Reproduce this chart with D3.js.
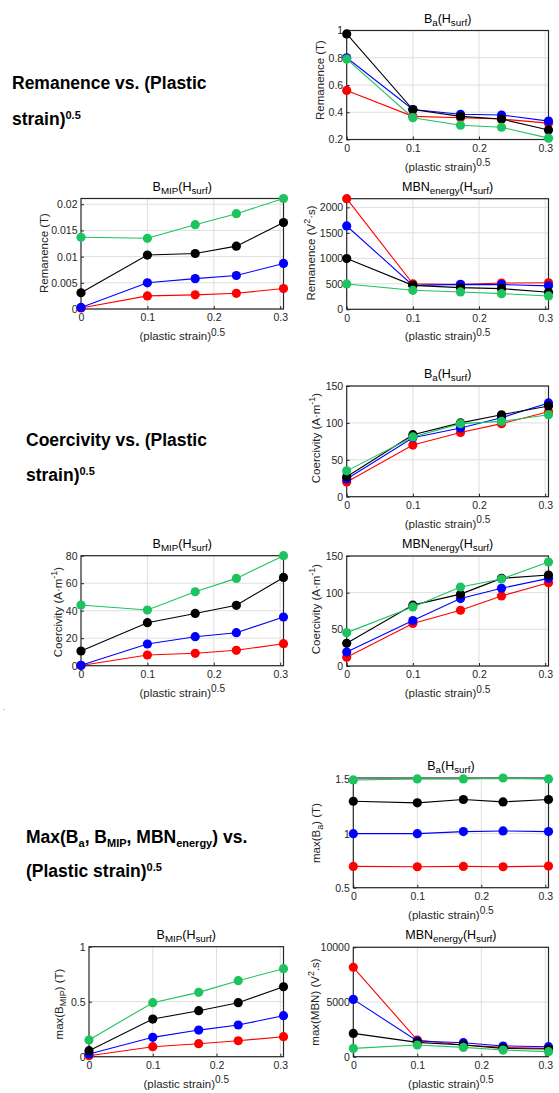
<!DOCTYPE html>
<html><head><meta charset="utf-8">
<script src="https://cdn.jsdelivr.net/npm/d3@7"></script>
<style>body{margin:0;background:#fff} svg{display:block}</style>
</head><body>
<script>
// ---------- data ----------
const strain = [0, 0.1, 0.172, 0.234, 0.305];
const xTicks = [0, 0.1, 0.2, 0.3];
const xTickLabels = ["0", "0.1", "0.2", "0.3"];
const seriesOrder = ["red", "blue", "black", "green"];

// Remanence – B_a
const remBaRed   = [0.56, 0.37, 0.36, 0.35, 0.32];
const remBaBlue  = [0.80, 0.42, 0.385, 0.38, 0.335];
const remBaBlack = [0.975, 0.42, 0.37, 0.35, 0.27];
const remBaGreen = [0.79, 0.36, 0.305, 0.29, 0.21];
const remBaTicks = [0.2, 0.4, 0.6, 0.8, 1];
const remBaTickLabels = ["0.2", "0.4", "0.6", "0.8", "1"];

// Remanence – B_MIP
const remMipRed   = [0.0002, 0.0025, 0.0027, 0.0030, 0.0039];
const remMipBlue  = [0.0003, 0.0050, 0.0058, 0.0064, 0.0087];
const remMipBlack = [0.0031, 0.0103, 0.0106, 0.0120, 0.0165];
const remMipGreen = [0.0137, 0.0135, 0.0161, 0.0182, 0.0211];
const remMipTicks = [0, 0.005, 0.01, 0.015, 0.02];
const remMipTickLabels = ["0", "0.005", "0.01", "0.015", "0.02"];

// Remanence – MBN energy
const remMbnRed   = [2170, 500, 485, 515, 520];
const remMbnBlue  = [1635, 470, 490, 485, 460];
const remMbnBlack = [995, 470, 425, 405, 335];
const remMbnGreen = [497, 373, 340, 307, 262];
const remMbnTicks = [0, 500, 1000, 1500, 2000];
const remMbnTickLabels = ["0", "500", "1000", "1500", "2000"];

// Coercivity – B_a
const coBaRed   = [20, 70, 87, 99, 115];
const coBaBlue  = [24, 80, 93, 107, 127];
const coBaBlack = [27, 84, 100, 111, 123];
const coBaGreen = [35, 81, 99, 102, 111];
const coBaTicks = [0, 50, 100, 150];
const coBaTickLabels = ["0", "50", "100", "150"];

// Coercivity – B_MIP
const coMipRed   = [0.2, 7.8, 9, 11.2, 16];
const coMipBlue  = [0.3, 15.8, 21.1, 24, 35.4];
const coMipBlack = [10.7, 31.3, 38, 43.9, 64.2];
const coMipGreen = [44.1, 40.5, 53.8, 63.5, 80];
const coMipTicks = [0, 20, 40, 60, 80];
const coMipTickLabels = ["0", "20", "40", "60", "80"];

// Coercivity – MBN energy
const coMbnRed   = [12, 58, 76, 95.5, 113.6];
const coMbnBlue  = [19, 62, 92, 106, 119.5];
const coMbnBlack = [31, 83, 98, 119.5, 124];
const coMbnGreen = [45.5, 80.5, 107.7, 118.6, 141.8];
const coMbnTicks = [0, 50, 100, 150];
const coMbnTickLabels = ["0", "50", "100", "150"];

// Max – B_a
const maxBaRed   = [0.697, 0.694, 0.697, 0.694, 0.70];
const maxBaBlue  = [1.0, 1.0, 1.019, 1.025, 1.019];
const maxBaBlack = [1.30, 1.285, 1.316, 1.294, 1.316];
const maxBaGreen = [1.497, 1.506, 1.506, 1.515, 1.506];
const maxBaTicks = [0.5, 1, 1.5];
const maxBaTickLabels = ["0.5", "1", "1.5"];

// Max – B_MIP
const maxMipRed   = [0.009, 0.091, 0.118, 0.145, 0.182];
const maxMipBlue  = [0.024, 0.176, 0.242, 0.288, 0.373];
const maxMipBlack = [0.055, 0.342, 0.418, 0.491, 0.636];
const maxMipGreen = [0.152, 0.491, 0.585, 0.691, 0.80];
const maxMipTicks = [0, 0.5, 1];
const maxMipTickLabels = ["0", "0.5", "1"];

// Max – MBN energy
const maxMbnRed   = [8170, 1520, 1070, 850, 760];
const maxMbnBlue  = [5240, 1430, 1280, 980, 915];
const maxMbnBlack = [2130, 1310, 1070, 760, 700];
const maxMbnGreen = [760, 1070, 850, 610, 460];
const maxMbnTicks = [0, 5000, 10000];
const maxMbnTickLabels = ["0", "5000", "10000"];

// ---------- style ----------
const colors = { red: "#ff0000", blue: "#0000ff", black: "#000000", green: "#1dc35e" };
const axisColor = "#262626";
const gridColor = "#dedede";
const FONT = "'Liberation Sans', Arial, sans-serif";
const TICK_FS = 10.5, LABEL_FS = 11.5, TITLE_FS = 12.5;

const W = 559, H = 1093;
const svg = d3.select("body").append("svg").attr("width", W).attr("height", H)
  .style("font-family", FONT);

// rich text helper: parts = [[text, kind]] kind: n (normal), sub, sup
function rich(sel, parts, fs, supScale) {
  let shift = 0;
  parts.forEach(([t, k]) => {
    const target = k === "sub" ? 3 : k === "sup" ? -4.5 : 0;
    sel.append("tspan").text(t)
      .attr("dy", target - shift)
      .attr("font-size", k === "n" ? fs : fs * (supScale || 0.78));
    shift = target;
  });
  return sel;
}

function panel(cfg) {
  const x = d3.scaleLinear().domain([0, strain[strain.length - 1]]).range([cfg.x0, cfg.x1]);
  const y = d3.scaleLinear().domain(cfg.yDomain).range([cfg.y1, cfg.y0]);
  const g = svg.append("g");

  // grid
  g.append("g").selectAll("line").data(xTicks.filter(v => v > 0)).join("line")
    .attr("x1", d => x(d)).attr("x2", d => x(d)).attr("y1", cfg.y0).attr("y2", cfg.y1)
    .attr("stroke", gridColor).attr("stroke-width", 1);
  g.append("g").selectAll("line").data(cfg.yTicks).join("line")
    .attr("x1", cfg.x0).attr("x2", cfg.x1).attr("y1", d => y(d)).attr("y2", d => y(d))
    .attr("stroke", gridColor).attr("stroke-width", 1);

  // axes
  const ax = d3.axisBottom(x).tickValues(xTicks)
    .tickFormat((d, i) => xTickLabels[i]).tickSizeInner(-3).tickSizeOuter(0).tickPadding(5);
  const axG = g.append("g").attr("transform", `translate(0,${cfg.y1})`).call(ax);
  const ay = d3.axisLeft(y).tickValues(cfg.yTicks)
    .tickFormat((d, i) => cfg.yTickLabels[i]).tickSizeInner(-3).tickSizeOuter(0).tickPadding(3.5);
  const ayG = g.append("g").attr("transform", `translate(${cfg.x0},0)`).call(ay);
  [axG, ayG].forEach(a => {
    a.select(".domain").remove();
    a.selectAll("line").attr("stroke", axisColor);
    a.selectAll("text").attr("fill", axisColor).attr("font-size", TICK_FS).attr("font-family", FONT);
  });

  // box
  g.append("rect").attr("x", cfg.x0).attr("y", cfg.y0)
    .attr("width", cfg.x1 - cfg.x0).attr("height", cfg.y1 - cfg.y0)
    .attr("fill", "none").attr("stroke", axisColor).attr("stroke-width", 1.2);

  // series
  const line = d3.line().x((d, i) => x(strain[i])).y(d => y(d));
  seriesOrder.forEach(name => {
    const vals = cfg.series[name];
    const sg = g.append("g");
    sg.append("path").attr("d", line(vals)).attr("fill", "none")
      .attr("stroke", colors[name]).attr("stroke-width", 1.1);
    sg.selectAll("circle").data(vals).join("circle")
      .attr("cx", (d, i) => x(strain[i])).attr("cy", d => y(d)).attr("r", 4.6)
      .attr("fill", colors[name]);
  });

  // title
  const cx = (cfg.x0 + cfg.x1) / 2;
  rich(svg.append("text").attr("x", cx).attr("y", cfg.y0 - 8)
    .attr("text-anchor", "middle").attr("fill", "#000"), cfg.title, TITLE_FS);

  // x label
  rich(svg.append("text").attr("x", cx).attr("y", cfg.y1 + 31)
    .attr("text-anchor", "middle").attr("fill", axisColor),
    [["(plastic strain)", "n"], ["0.5", "sup"]], LABEL_FS, 0.88);

  // y label (baseline placed so glyphs are centred on ylx)
  rich(svg.append("text")
    .attr("transform", `translate(${cfg.ylx + 4.2},${cfg.yly}) rotate(-90)`)
    .attr("text-anchor", "middle").attr("fill", axisColor),
    cfg.ylabel, LABEL_FS);
}

const tBa = [["B", "n"], ["a", "sub"], ["(H", "n"], ["surf", "sub"], [")", "n"]];
const tMip = [["B", "n"], ["MIP", "sub"], ["(H", "n"], ["surf", "sub"], [")", "n"]];
const tMbn = [["MBN", "n"], ["energy", "sub"], ["(H", "n"], ["surf", "sub"], [")", "n"]];
const lRemT = [["Remanence (T)", "n"]];
const lRemV = [["Remanence (V", "n"], ["2", "sup"], ["·s)", "n"]];
const lCo = [["Coercivity (A·m", "n"], ["-1", "sup"], [")", "n"]];

const R = { x0: 346.7, x1: 548.5 };
const L = { x0: 81, x1: 283.5 };

panel({ ...R, y0: 30.5, y1: 139.5, yDomain: [0.2, 1], yTicks: remBaTicks, yTickLabels: remBaTickLabels,
  series: { red: remBaRed, blue: remBaBlue, black: remBaBlack, green: remBaGreen },
  title: tBa, ylabel: lRemT, ylx: 320, yly: 80 });
panel({ ...L, y0: 198.5, y1: 309, yDomain: [0, 0.0211], yTicks: remMipTicks, yTickLabels: remMipTickLabels,
  series: { red: remMipRed, blue: remMipBlue, black: remMipBlack, green: remMipGreen },
  title: tMip, ylabel: lRemT, ylx: 44, yly: 253 });
panel({ ...R, y0: 198.7, y1: 309.3, yDomain: [0, 2170], yTicks: remMbnTicks, yTickLabels: remMbnTickLabels,
  series: { red: remMbnRed, blue: remMbnBlue, black: remMbnBlack, green: remMbnGreen },
  title: tMbn, ylabel: lRemV, ylx: 310.5, yly: 253 });
panel({ ...R, y0: 386, y1: 496.7, yDomain: [0, 150], yTicks: coBaTicks, yTickLabels: coBaTickLabels,
  series: { red: coBaRed, blue: coBaBlue, black: coBaBlack, green: coBaGreen },
  title: tBa, ylabel: lCo, ylx: 315.5, yly: 438 });
panel({ ...L, y0: 555.7, y1: 665.7, yDomain: [0, 80], yTicks: coMipTicks, yTickLabels: coMipTickLabels,
  series: { red: coMipRed, blue: coMipBlue, black: coMipBlack, green: coMipGreen },
  title: tMip, ylabel: lCo, ylx: 57.5, yly: 612 });
panel({ ...R, y0: 556, y1: 666, yDomain: [0, 150], yTicks: coMbnTicks, yTickLabels: coMbnTickLabels,
  series: { red: coMbnRed, blue: coMbnBlue, black: coMbnBlack, green: coMbnGreen },
  title: tMbn, ylabel: lCo, ylx: 315.5, yly: 609 });
panel({ x0: 353.3, x1: 548.5, y0: 778, y1: 887.7, yDomain: [0.5, 1.515], yTicks: maxBaTicks, yTickLabels: maxBaTickLabels,
  series: { red: maxBaRed, blue: maxBaBlue, black: maxBaBlack, green: maxBaGreen },
  title: tBa, ylabel: [["max(B", "n"], ["a", "sub"], [") (T)", "n"]], ylx: 315.5, yly: 833 });
panel({ x0: 89, x1: 283.5, y0: 946.7, y1: 1056.7, yDomain: [0, 1], yTicks: maxMipTicks, yTickLabels: maxMipTickLabels,
  series: { red: maxMipRed, blue: maxMipBlue, black: maxMipBlack, green: maxMipGreen },
  title: tMip, ylabel: [["max(B", "n"], ["MIP", "sub"], [") (T)", "n"]], ylx: 58.5, yly: 1004 });
panel({ x0: 353.3, x1: 548.5, y0: 947.3, y1: 1056.7, yDomain: [0, 10000], yTicks: maxMbnTicks, yTickLabels: maxMbnTickLabels,
  series: { red: maxMbnRed, blue: maxMbnBlue, black: maxMbnBlack, green: maxMbnGreen },
  title: tMbn, ylabel: [["max(MBN) (V", "n"], ["2", "sup"], [".s)", "n"]], ylx: 314.5, yly: 1002 });

// ---------- headings ----------
const HF = 17.5;
function heading(x, y, parts) {
  const t = svg.append("text").attr("x", x).attr("y", y).attr("font-weight", "bold")
    .attr("fill", "#000").attr("font-family", FONT);
  let shift = 0;
  parts.forEach(([s, k]) => {
    const target = k === "sub" ? 3.5 : k === "sup" ? -6 : 0;
    t.append("tspan").text(s).attr("dy", target - shift).attr("font-size", k === "n" ? HF : 11);
    shift = target;
  });
}
heading(12, 89, [["Remanence vs. (Plastic", "n"]]);
heading(12, 125, [["strain)", "n"], ["0.5", "sup"]]);
heading(26, 446, [["Coercivity vs. (Plastic", "n"]]);
heading(26, 481, [["strain)", "n"], ["0.5", "sup"]]);
heading(26, 843, [["Max(B", "n"], ["a", "sub"], [", B", "n"], ["MIP", "sub"], [", MBN", "n"], ["energy", "sub"], [") vs.", "n"]]);
heading(26, 877, [["(Plastic strain)", "n"], ["0.5", "sup"]]);

svg.append("text").attr("x", 3).attr("y", 710).attr("font-size", 8).attr("fill", "#444").text(".");
</script>
</body></html>
